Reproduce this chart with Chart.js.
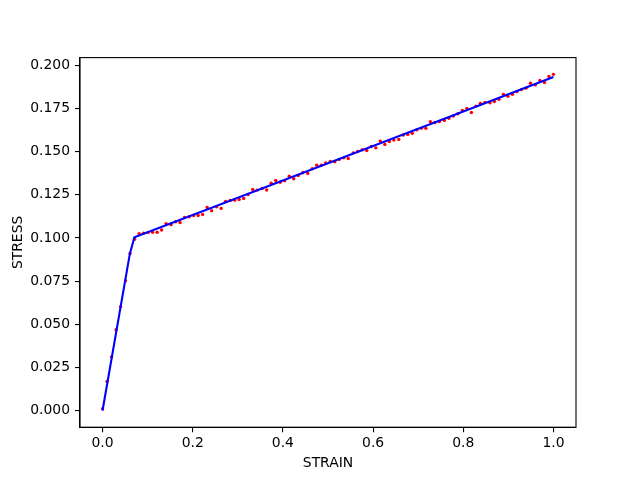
<!DOCTYPE html>
<html>
<head>
<meta charset="utf-8">
<script src="https://cdn.jsdelivr.net/npm/chart.js@4.4.1/dist/chart.umd.min.js"></script>
<style>
  html, body { margin: 0; padding: 0; background: #fff; }
  canvas { display: block; }
</style>
</head>
<body>
<canvas id="stress-chart" width="640" height="480"></canvas>
<script>
// measured points (red)
const strain = [
  0.000, 0.010, 0.020, 0.030, 0.040, 0.051, 0.061, 0.071, 0.081, 0.091,
  0.101, 0.111, 0.121, 0.131, 0.141, 0.152, 0.162, 0.172, 0.182, 0.192,
  0.202, 0.212, 0.222, 0.232, 0.242, 0.253, 0.263, 0.273, 0.283, 0.293,
  0.303, 0.313, 0.323, 0.333, 0.343, 0.354, 0.364, 0.374, 0.384, 0.394,
  0.404, 0.414, 0.424, 0.434, 0.444, 0.455, 0.465, 0.475, 0.485, 0.495,
  0.505, 0.515, 0.525, 0.535, 0.545, 0.556, 0.566, 0.576, 0.586, 0.596,
  0.606, 0.616, 0.626, 0.636, 0.646, 0.657, 0.667, 0.677, 0.687, 0.697,
  0.707, 0.717, 0.727, 0.737, 0.747, 0.758, 0.768, 0.778, 0.788, 0.798,
  0.808, 0.818, 0.828, 0.838, 0.848, 0.859, 0.869, 0.879, 0.889, 0.899,
  0.909, 0.919, 0.929, 0.939, 0.949, 0.960, 0.970, 0.980, 0.990, 1.000
];
const stress = [
  0.0010, 0.0168, 0.0310, 0.0468, 0.0602, 0.0752, 0.0910, 0.0992, 0.1025, 0.1027,
  0.1032, 0.1033, 0.1033, 0.1046, 0.1083, 0.1077, 0.1094, 0.1089, 0.1118, 0.1123,
  0.1130, 0.1130, 0.1136, 0.1176, 0.1158, 0.1180, 0.1171, 0.1212, 0.1217, 0.1219,
  0.1223, 0.1229, 0.1252, 0.1281, 0.1277, 0.1286, 0.1278, 0.1317, 0.1333, 0.1323,
  0.1332, 0.1357, 0.1343, 0.1362, 0.1378, 0.1374, 0.1401, 0.1421, 0.1421, 0.1435,
  0.1443, 0.1441, 0.1455, 0.1464, 0.1460, 0.1493, 0.1501, 0.1511, 0.1507, 0.1530,
  0.1522, 0.1561, 0.1542, 0.1559, 0.1567, 0.1571, 0.1596, 0.1600, 0.1606, 0.1627,
  0.1635, 0.1635, 0.1674, 0.1669, 0.1675, 0.1681, 0.1693, 0.1706, 0.1720, 0.1739,
  0.1751, 0.1727, 0.1764, 0.1780, 0.1785, 0.1783, 0.1791, 0.1803, 0.1832, 0.1821,
  0.1833, 0.1848, 0.1860, 0.1868, 0.1896, 0.1888, 0.1913, 0.1901, 0.1936, 0.1948
];

// bilinear fit (blue), drawn through its grid points around the yield kink
const fitStrain = [0, 0.0606, 0.0707, 1.0];
const fitStress = [0, 0.0909, 0.1004, 0.1933];

const xTicks = [0, 0.2, 0.4, 0.6, 0.8, 1.0];
const yTicks = [0, 0.025, 0.05, 0.075, 0.1, 0.125, 0.15, 0.175, 0.2];

const font = { family: "'DejaVu Sans', sans-serif", size: 13.9 };

// matplotlib style box around the plot area
const frame = {
  id: 'frame',
  afterDraw(chart) {
    const a = chart.chartArea;
    const ctx = chart.ctx;
    ctx.save();
    ctx.strokeStyle = '#000';
    ctx.lineWidth = 1.1;
    ctx.strokeRect(a.left, a.top, a.right - a.left, a.bottom - a.top);
    ctx.restore();
  }
};

const axisBase = {
  type: 'linear',
  grid: { display: true, drawOnChartArea: false, drawTicks: true, tickLength: 5, color: '#000', lineWidth: 1.1 },
  border: { display: true, color: '#000', width: 1.1 },
};

new Chart(document.getElementById('stress-chart').getContext('2d'), {
  type: 'scatter',
  data: {
    datasets: [
      {
        label: 'fit',
        showLine: true,
        data: fitStrain.map((x, i) => ({ x: x, y: fitStress[i] })),
        borderColor: '#0000ff',
        backgroundColor: '#0000ff',
        borderWidth: 2.1,
        pointRadius: 0,
        tension: 0,
        order: 0
      },
      {
        label: 'data',
        data: strain.map((x, i) => ({ x: x, y: stress[i] })),
        backgroundColor: '#ff0000',
        borderWidth: 0,
        pointRadius: 1.7,
        order: 1
      }
    ]
  },
  options: {
    responsive: false,
    animation: false,
    layout: { padding: { top: 57.6, right: 64, left: 0, bottom: 0 } },
    plugins: { legend: { display: false }, tooltip: { enabled: false } },
    scales: {
      x: Object.assign({}, axisBase, {
        position: 'bottom',
        min: -0.05, max: 1.05,
        afterBuildTicks: s => { s.ticks = xTicks.map(v => ({ value: v })); },
        afterFit: s => { s.height = 52.8; },
        ticks: { font: font, color: '#000', padding: 3, maxRotation: 0, callback: v => v.toFixed(1) },
        title: { display: true, text: 'STRAIN', font: font, color: '#000', padding: { top: 0, bottom: 8 } }
      }),
      y: Object.assign({}, axisBase, {
        position: 'left',
        min: -0.0097, max: 0.2045,
        afterBuildTicks: s => { s.ticks = yTicks.map(v => ({ value: v })); },
        afterFit: s => { s.width = 80; },
        ticks: { font: font, color: '#000', padding: 5, callback: v => v.toFixed(3) },
        title: { display: true, text: 'STRESS', font: font, color: '#000', padding: { top: 10, bottom: 0 } }
      })
    }
  },
  plugins: [frame]
});
</script>
</body>
</html>
